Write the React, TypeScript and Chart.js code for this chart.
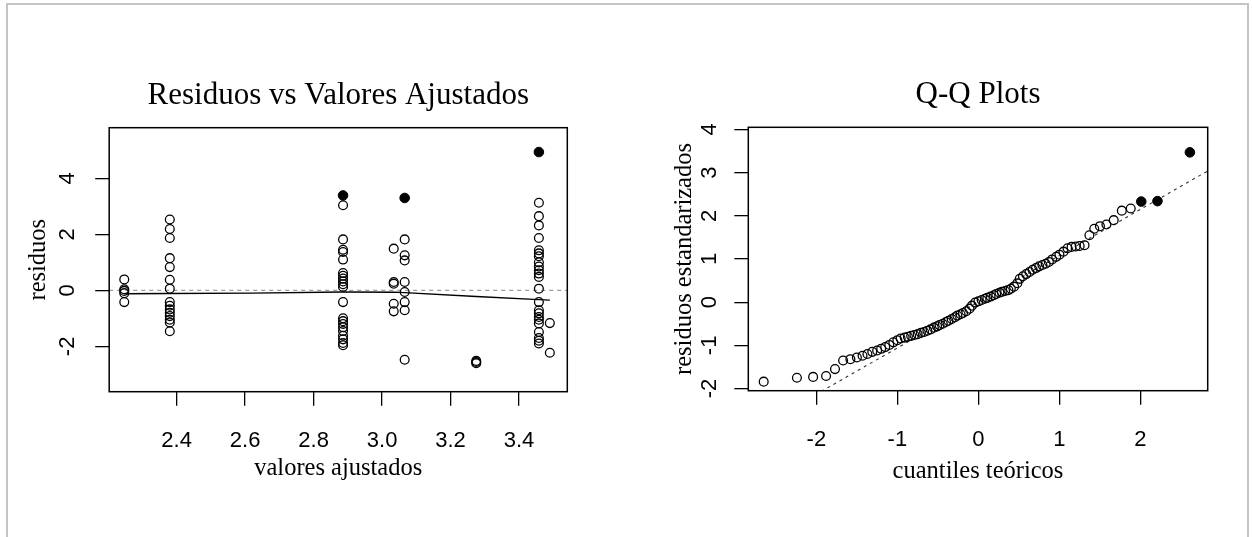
import { useEffect, useRef } from "react";
import { Chart, registerables } from "chart.js";

Chart.register(...registerables);

// ---------- Panel izquierdo: Residuos vs Valores Ajustados ----------
const gruposAjustados = [2.247, 2.38, 2.886, 3.034, 3.066, 3.275, 3.458, 3.49];
const residuosPorGrupo = [
  [0.39, 0.04, -0.02, -0.1, -0.42],
  [2.53, 2.19, 1.87, 1.15, 0.83, 0.38, 0.06, -0.42, -0.55, -0.68, -0.8, -0.92, -1.05, -1.15, -1.46],
  [3.04, 1.82, 1.45, 1.37, 1.1, 0.62, 0.52, 0.42, 0.32, 0.22, 0.12, -0.42, -1.0, -1.1, -1.2, -1.32, -1.45, -1.62, -1.75, -1.88, -1.96],
  [1.49, 0.3, 0.24, -0.48, -0.75],
  [1.82, 1.25, 1.07, 0.3, -0.06, -0.42, -0.71, -2.48],
  [-2.52, -2.56, -2.6],
  [3.13, 2.65, 2.32, 1.87, 1.43, 1.32, 1.22, 1.0, 0.85, 0.72, 0.6, 0.48, 0.06, -0.42, -0.71, -0.82, -0.95, -1.05, -1.18, -1.49, -1.7, -1.8, -1.9],
  [-1.17, -2.23],
];
const ajustadosDestacados = [2.886, 3.066, 3.458];
const residuosDestacados = [3.39, 3.3, 4.94];
const suaveX = [2.247, 2.38, 2.62, 2.886, 3.034, 3.066, 3.275, 3.458, 3.49];
const suaveY = [-0.12, -0.115, -0.1, -0.06, -0.065, -0.08, -0.22, -0.33, -0.35];
const ticksAjustados = [2.4, 2.6, 2.8, 3.0, 3.2, 3.4];
const ticksResiduos = [-2, 0, 2, 4];
const limitesAjustados = [2.203, 3.541];
const limitesResiduos = [-3.62, 5.81];

// ---------- Panel derecho: Q-Q Plots ----------
const cuantilesTeoricos = [
  -2.65, -2.24, -2.04, -1.88, -1.77, -1.67, -1.58, -1.5, -1.43, -1.37,
  -1.31, -1.25, -1.2, -1.15, -1.1, -1.05, -1.0, -0.96, -0.91, -0.87,
  -0.83, -0.79, -0.75, -0.71, -0.67, -0.63, -0.59, -0.55, -0.51, -0.48,
  -0.44, -0.4, -0.37, -0.33, -0.29, -0.26, -0.22, -0.19, -0.15, -0.11,
  -0.08, -0.04, 0.0, 0.04, 0.08, 0.11, 0.15, 0.19, 0.22, 0.26,
  0.29, 0.33, 0.37, 0.4, 0.44, 0.48, 0.51, 0.55, 0.59, 0.63,
  0.67, 0.71, 0.75, 0.79, 0.83, 0.87, 0.91, 0.96, 1.0, 1.05,
  1.1, 1.15, 1.2, 1.25, 1.31, 1.37, 1.43, 1.5, 1.58, 1.67,
  1.77, 1.88,
];
const residuosEstandarizados = [
  -1.84, -1.75, -1.73, -1.71, -1.55, -1.35, -1.32, -1.28, -1.24, -1.2,
  -1.15, -1.12, -1.08, -1.04, -0.99, -0.93, -0.88, -0.84, -0.82, -0.8,
  -0.78, -0.76, -0.74, -0.71, -0.69, -0.66, -0.63, -0.59, -0.56, -0.53,
  -0.5, -0.46, -0.43, -0.39, -0.35, -0.31, -0.28, -0.25, -0.21, -0.15,
  -0.08, -0.01, 0.02, 0.05, 0.08, 0.1, 0.13, 0.16, 0.19, 0.22,
  0.24, 0.26, 0.28, 0.31, 0.36, 0.44, 0.54, 0.6, 0.65, 0.7,
  0.75, 0.79, 0.83, 0.86, 0.89, 0.93, 0.99, 1.05, 1.1, 1.17,
  1.25, 1.28, 1.29, 1.3, 1.32, 1.55, 1.7, 1.76, 1.8, 1.9,
  2.12, 2.17,
];
const cuantilesDestacados = [2.01, 2.21, 2.61];
const estandarizadosDestacados = [2.33, 2.34, 3.47];
const qqIntercepto = 0.01;
const qqPendiente = 1.07;
const ticksTeoricos = [-2, -1, 0, 1, 2];
const ticksEstandarizados = [-2, -1, 0, 1, 2, 3, 4];
const limitesTeoricos = [-2.84, 2.83];
const limitesEstandarizados = [-2.05, 4.05];

const SERIF = '"Liberation Serif", "Times New Roman", serif';
const SANS = '"Liberation Sans", Arial, sans-serif';

type Decor = { title: string; xTitle: string; yTitle: string; titleDy: number; xDy: number; yDx: number };

function makeDecor(d: Decor) {
  return {
    id: "decor",
    afterDraw(chart: any) {
      const { ctx, chartArea: a } = chart;
      ctx.save();
      ctx.strokeStyle = "#000";
      ctx.lineWidth = 1.5;
      ctx.strokeRect(a.left, a.top, a.right - a.left, a.bottom - a.top);
      ctx.fillStyle = "#000";
      ctx.textAlign = "center";
      ctx.textBaseline = "alphabetic";
      const cx = (a.left + a.right) / 2;
      ctx.font = `31px ${SERIF}`;
      ctx.fillText(d.title, cx, a.top + d.titleDy);
      ctx.font = `24.5px ${SERIF}`;
      ctx.fillText(d.xTitle, cx, a.bottom + d.xDy);
      ctx.translate(a.left + d.yDx, (a.top + a.bottom) / 2);
      ctx.rotate(-Math.PI / 2);
      ctx.fillText(d.yTitle, 0, 0);
      ctx.restore();
    },
  };
}

function axis(lim: number[], ticks: number[], horizontal: boolean, fmt: (v: number) => string, pad: number) {
  return {
    type: "linear",
    min: lim[0],
    max: lim[1],
    afterBuildTicks: (s: any) => {
      s.ticks = ticks.map((v) => ({ value: v }));
    },
    afterFit: (s: any) => {
      if (horizontal) s.height = 60;
      else s.width = 60;
    },
    grid: { drawOnChartArea: false, drawTicks: true, tickLength: 14, color: "#000", lineWidth: 1.3 },
    border: { display: false },
    ticks: {
      color: "#000",
      font: { family: SANS, size: 22 },
      padding: pad,
      autoSkip: false,
      minRotation: horizontal ? 0 : 90,
      maxRotation: horizontal ? 0 : 90,
      crossAlign: horizontal ? "near" : "center",
      callback: (v: any) => fmt(Number(v)),
    },
  };
}

const openPts = (xs: number[], ys: number[]) => xs.map((x, i) => ({ x, y: ys[i] }));

function ChartPanel({ config, width, left }: { config: any; width: number; left: number }) {
  const ref = useRef<HTMLCanvasElement | null>(null);
  useEffect(() => {
    if (!ref.current) return;
    const chart = new Chart(ref.current, config);
    return () => chart.destroy();
  }, []);
  return (
    <canvas
      ref={ref}
      width={width}
      height={537}
      style={{ position: "absolute", left, top: 0, width, height: 537 }}
    />
  );
}

const pointStyle = {
  pointRadius: 4.4,
  pointHoverRadius: 4.4,
  pointBorderWidth: 1.3,
  pointBorderColor: "#000",
  pointBackgroundColor: "rgba(0,0,0,0)",
  showLine: false,
};
const filledStyle = {
  pointRadius: 4.8,
  pointHoverRadius: 4.8,
  pointBorderWidth: 1,
  pointBorderColor: "#000",
  pointBackgroundColor: "#000",
  showLine: false,
};

const leftOpen = gruposAjustados.flatMap((x, g) => residuosPorGrupo[g].map((y) => ({ x, y })));

const leftConfig = {
  type: "scatter",
  data: {
    datasets: [
      { data: openPts(ajustadosDestacados, residuosDestacados), ...filledStyle },
      { data: leftOpen, ...pointStyle },
      {
        data: openPts(suaveX, suaveY),
        showLine: true,
        borderColor: "#000",
        borderWidth: 1.4,
        pointRadius: 0,
      },
      {
        data: [
          { x: limitesAjustados[0], y: 0 },
          { x: limitesAjustados[1], y: 0 },
        ],
        showLine: true,
        borderColor: "#9a9a9a",
        borderDash: [4, 4],
        borderWidth: 1.2,
        pointRadius: 0,
      },
    ],
  },
  options: {
    animation: false,
    responsive: false,
    devicePixelRatio: 1,
    events: [],
    layout: { padding: { left: 49.2, right: 58.7, top: 127.7, bottom: 85.3 } },
    plugins: { legend: { display: false }, tooltip: { enabled: false } },
    scales: {
      x: axis(limitesAjustados, ticksAjustados, true, (v) => v.toFixed(1), 22),
      y: axis(limitesResiduos, ticksResiduos, false, (v) => String(v), 17),
    },
  },
  plugins: [
    makeDecor({
      title: "Residuos vs Valores Ajustados",
      xTitle: "valores ajustados",
      yTitle: "residuos",
      titleDy: -24,
      xDy: 83,
      yDx: -64,
    }),
  ],
};

const rightConfig = {
  type: "scatter",
  data: {
    datasets: [
      { data: openPts(cuantilesDestacados, estandarizadosDestacados), ...filledStyle },
      { data: openPts(cuantilesTeoricos, residuosEstandarizados), ...pointStyle },
      {
        data: limitesTeoricos.map((x) => ({ x, y: qqIntercepto + qqPendiente * x })),
        showLine: true,
        borderColor: "#333",
        borderDash: [3, 4],
        borderWidth: 1.1,
        pointRadius: 0,
      },
    ],
  },
  options: {
    animation: false,
    responsive: false,
    devicePixelRatio: 1,
    events: [],
    layout: { padding: { left: 62.3, right: 45.3, top: 127.3, bottom: 86.3 } },
    plugins: { legend: { display: false }, tooltip: { enabled: false } },
    scales: {
      x: axis(limitesTeoricos, ticksTeoricos, true, (v) => String(v), 22),
      y: axis(limitesEstandarizados, ticksEstandarizados, false, (v) => String(v), 15),
    },
  },
  plugins: [
    makeDecor({
      title: "Q-Q Plots",
      xTitle: "cuantiles teóricos",
      yTitle: "residuos estandarizados",
      titleDy: -24,
      xDy: 87,
      yDx: -57,
    }),
  ],
};

export default function App() {
  return (
    <div
      style={{
        position: "absolute",
        left: 0,
        top: 0,
        width: 1253,
        height: 537,
        background: "#fff",
        overflow: "hidden",
      }}
    >
      <div
        style={{
          position: "absolute",
          left: 6,
          top: 3,
          width: 1239,
          height: 600,
          borderTop: "2px solid #c4c4c4",
          borderLeft: "2px solid #c4c4c4",
          borderRight: "2px solid #c4c4c4",
        }}
      />
      <ChartPanel config={leftConfig} width={626} left={0} />
      <ChartPanel config={rightConfig} width={627} left={626} />
    </div>
  );
}
